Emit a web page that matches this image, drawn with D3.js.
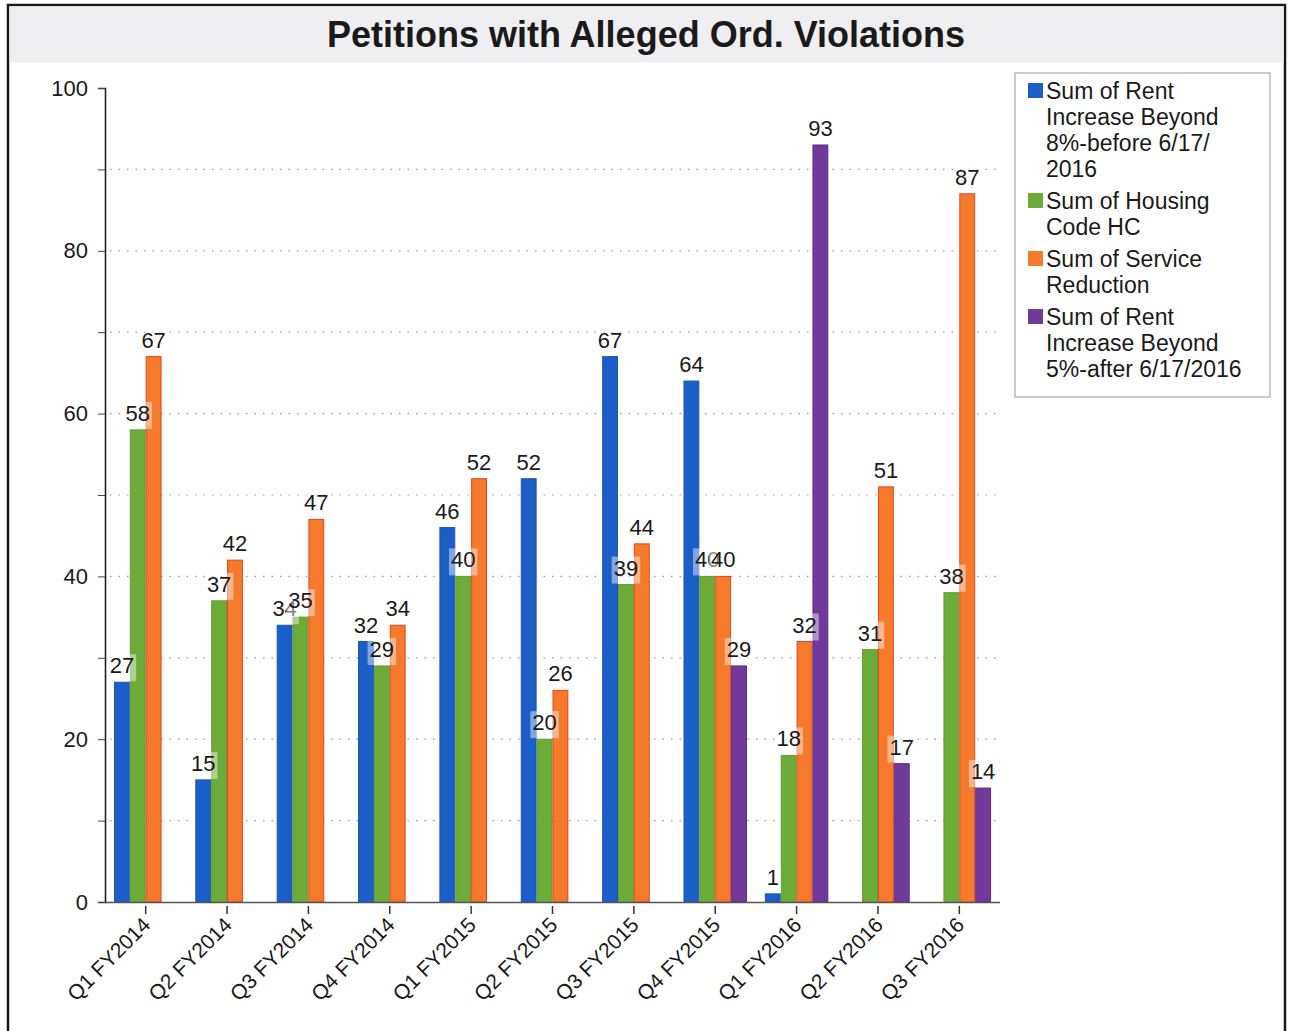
<!DOCTYPE html>
<html>
<head>
<meta charset="utf-8">
<script src="https://cdn.jsdelivr.net/npm/d3@7"></script>
<style>
  html, body { margin: 0; padding: 0; background: #ffffff; }
  svg { display: block; font-family: "Liberation Sans", Arial, Helvetica, sans-serif; }
</style>
</head>
<body>
<svg id="chart" width="1289" height="1031"></svg>
<script>
// Quarters shown on the x axis
const categories = ["Q1 FY2014", "Q2 FY2014", "Q3 FY2014", "Q4 FY2014",
                    "Q1 FY2015", "Q2 FY2015", "Q3 FY2015", "Q4 FY2015",
                    "Q1 FY2016", "Q2 FY2016", "Q3 FY2016"];

// Series names (legend lines) and values per quarter; null = no petitions recorded
const seriesNames = [
  ["Sum of Rent", "Increase Beyond", "8%-before 6/17/", "2016"],
  ["Sum of Housing", "Code HC"],
  ["Sum of Service", "Reduction"],
  ["Sum of Rent", "Increase Beyond", "5%-after 6/17/2016"]
];
const rentBefore  = [27, 15, 34, 32, 46, 52, 67, 64, 1, null, null];
const housingCode = [58, 37, 35, 29, 40, 20, 39, 40, 18, 31, 38];
const serviceRed  = [67, 42, 47, 34, 52, 26, 44, 40, 32, 51, 87];
const rentAfter   = [null, null, null, null, null, null, null, 29, 93, 17, 14];

const yTicks = [0, 20, 40, 60, 80, 100];
const yGrid  = [10, 20, 30, 40, 50, 60, 70, 80, 90];

const seriesValues = [rentBefore, housingCode, serviceRed, rentAfter];
const fills   = ["#1c5ec8", "#6cab38", "#f67a2c", "#71399a"];
const strokes = ["#1a55b8", "#5f9e30", "#e8441e", "#5f2d86"];

const svg = d3.select("#chart");

// frame and title band
svg.append("rect").attr("x", 8).attr("y", 5).attr("width", 1277).attr("height", 1040)
  .attr("fill", "#ffffff").attr("stroke", "#1a1a1a").attr("stroke-width", 2.5);
svg.append("rect").attr("x", 9.5).attr("y", 6.5).attr("width", 1274).attr("height", 56)
  .attr("fill", "#efeff1");
svg.append("text").attr("x", 646).attr("y", 47).attr("text-anchor", "middle")
  .attr("font-size", 36).attr("font-weight", "bold").attr("fill", "#1a1a1a")
  .text("Petitions with Alleged Ord. Violations");

// scales
const x0 = d3.scaleBand().domain(categories).range([105, 1000])
  .paddingInner(0.22).paddingOuter(0.11);
const x1 = d3.scaleBand().domain(d3.range(4)).range([0, x0.bandwidth()]);
const y = d3.scaleLinear().domain([0, 100]).range([902, 88]);

// dotted gridlines
svg.append("g").selectAll("line").data(yGrid).join("line")
  .attr("x1", 110).attr("x2", 996)
  .attr("y1", d => y(d)).attr("y2", d => y(d))
  .attr("stroke", "#9a9a9a").attr("stroke-width", 1.2)
  .attr("stroke-dasharray", "1.5,7");

// y axis
const yAxis = d3.axisLeft(y).tickValues(d3.range(0, 101, 10)).tickSize(7)
  .tickFormat(d => yTicks.includes(d) ? d : "");
const gy = svg.append("g").attr("transform", "translate(105,0)").call(yAxis);
gy.select(".domain").attr("stroke", "#222").attr("stroke-width", 1.6);
gy.selectAll(".tick line").attr("stroke", "#444");
gy.selectAll(".tick text").attr("font-size", 22).attr("fill", "#1a1a1a")
  .attr("font-family", "Liberation Sans, Arial, sans-serif").attr("x", -17);

// bars
const cells = [];
categories.forEach((c, ci) => {
  seriesValues.forEach((vals, si) => {
    if (vals[ci] != null) cells.push({ c, ci, si, v: vals[ci] });
  });
});

svg.append("g").selectAll("rect").data(cells).join("rect")
  .attr("x", d => x0(d.c) + x1(d.si) + 0.5)
  .attr("width", x1.bandwidth() - 1)
  .attr("y", d => y(d.v))
  .attr("height", d => y(0) - y(d.v))
  .attr("fill", d => fills[d.si])
  .attr("stroke", d => strokes[d.si]).attr("stroke-width", 1);

// x axis
const xAxis = d3.axisBottom(x0).tickSize(8).tickSizeOuter(0);
const gx = svg.append("g").attr("transform", `translate(0,${y(0)})`).call(xAxis);
gx.select(".domain").attr("stroke", "#555").attr("stroke-width", 1.4)
  .attr("d", "M105,0.5H1000");
gx.selectAll(".tick line").attr("stroke", "#333").attr("stroke-width", 1.5)
  .attr("y1", 4).attr("y2", 12);
gx.selectAll(".tick text")
  .attr("font-size", 21).attr("fill", "#1a1a1a")
  .attr("font-family", "Liberation Sans, Arial, sans-serif")
  .attr("text-anchor", "end")
  .attr("transform", "translate(1,19) rotate(-45)")
  .attr("dy", "0.35em").attr("y", 0).attr("x", 0);

// value labels with translucent white backing
const labels = svg.append("g").selectAll("g").data(cells).join("g")
  .attr("transform", d => `translate(${x0(d.c) + x1(d.si) + x1.bandwidth() / 2},${y(d.v) - 9})`);
labels.append("text")
  .attr("text-anchor", "middle").attr("font-size", 22).attr("fill", "#1a1a1a")
  .text(d => d.v);
labels.each(function () {
  const g = d3.select(this);
  const bb = g.select("text").node().getBBox();
  g.insert("rect", "text")
    .attr("x", bb.x - 2).attr("y", bb.y + 1)
    .attr("width", bb.width + 4).attr("height", bb.height + 2)
    .attr("fill", "#ffffff").attr("fill-opacity", 0.45);
});

// legend
const legend = svg.append("g");
legend.append("rect").attr("x", 1015).attr("y", 73).attr("width", 255).attr("height", 324)
  .attr("fill", "#ffffff").attr("stroke", "#a8a8a8").attr("stroke-width", 1.2);
const itemTops = [80, 190, 248, 306];
seriesNames.forEach((lines, i) => {
  const top = itemTops[i];
  legend.append("rect").attr("x", 1028).attr("y", top + 3).attr("width", 15).attr("height", 15)
    .attr("fill", fills[i]);
  lines.forEach((ln, j) => {
    legend.append("text").attr("x", 1046).attr("y", top + 19 + j * 26)
      .attr("font-size", 23).attr("fill", "#1a1a1a").text(ln);
  });
});
</script>
</body>
</html>
